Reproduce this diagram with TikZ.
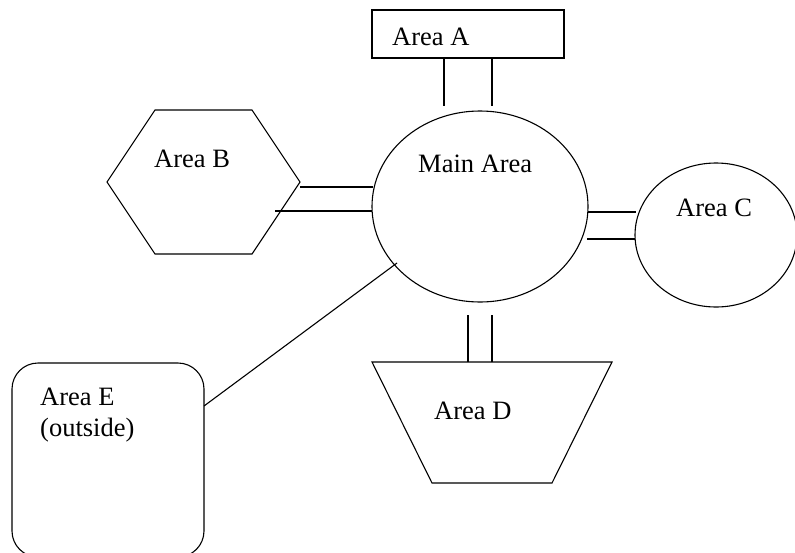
\documentclass[tikz,border=0pt]{standalone}
\usepackage{fontspec}
\setmainfont{Liberation Serif}
\usetikzlibrary{shapes.geometric}
\begin{document}
\begin{tikzpicture}[x=1pt,y=-1pt,
  shp/.style={draw, line width=1.1pt, inner sep=0pt},
  conn/.style={line width=1.1pt},
  lbl/.style={anchor=base west, inner sep=0pt, font=\fontsize{26.5}{30}\selectfont}]
\useasboundingbox (0,0) rectangle (795,552);
\clip (0,0) rectangle (795,552);
% shapes
\node[shp, rectangle, minimum width=192pt, minimum height=48pt] (A) at (468,34) {};
\node[shp, ellipse, minimum width=216pt, minimum height=191pt] (main) at (480,206.5) {};
\node[shp, ellipse, minimum width=162pt, minimum height=144pt] (C) at (716,235) {};
\node[shp, rectangle, rounded corners=26pt, minimum width=192pt, minimum height=194pt] (E) at (108,460) {};
\draw[line width=1.1pt] (155,110) coordinate (B1) -- (252,110) coordinate (B2) -- (300,182) coordinate (B3)
  -- (252,254) coordinate (B4) -- (155,254) coordinate (B5) -- (107,182) coordinate (B6) -- cycle;
\draw[line width=1.1pt] (372,362) coordinate (D1) -- (612,362) coordinate (D2) -- (552,483) coordinate (D3)
  -- (432,483) coordinate (D4) -- cycle;
% labels
\node[lbl] (tA) at (392,45) {Area A};
\node[lbl] (tB) at (154,167) {Area B};
\node[lbl] (tM) at (418,172) {Main Area};
\node[lbl] (tC) at (676,216) {Area C};
\node[lbl] (tD) at (434,419) {Area D};
\node[lbl] (tE1) at (40,405) {Area E};
\node[lbl] (tE2) at (40,436) {(outside)};
% connector end points
\coordinate (a1s) at (444,58);  \coordinate (a1e) at (444,106);
\coordinate (a2s) at (492,58);  \coordinate (a2e) at (492,106);
\coordinate (b1s) at (300,187); \coordinate (b1e) at (373,187);
\coordinate (b2s) at (275,211); \coordinate (b2e) at (372,211);
\coordinate (c1s) at (588,212); \coordinate (c1e) at (636,212);
\coordinate (c2s) at (587,239); \coordinate (c2e) at (635,239);
\coordinate (d1s) at (468,315); \coordinate (d1e) at (468,362);
\coordinate (d2s) at (492,315); \coordinate (d2e) at (492,362);
\coordinate (es) at (204,406);  \coordinate (ee) at (397,263);
% connectors
\draw[conn] (a1s) -- (a1e);
\draw[conn] (a2s) -- (a2e);
\draw[conn] (b1s) -- (b1e);
\draw[conn] (b2s) -- (b2e);
\draw[conn] (c1s) -- (c1e);
\draw[conn] (c2s) -- (c2e);
\draw[conn] (d1s) -- (d1e);
\draw[conn] (d2s) -- (d2e);
\draw[conn] (es) -- (ee);
\end{tikzpicture}
\end{document}
